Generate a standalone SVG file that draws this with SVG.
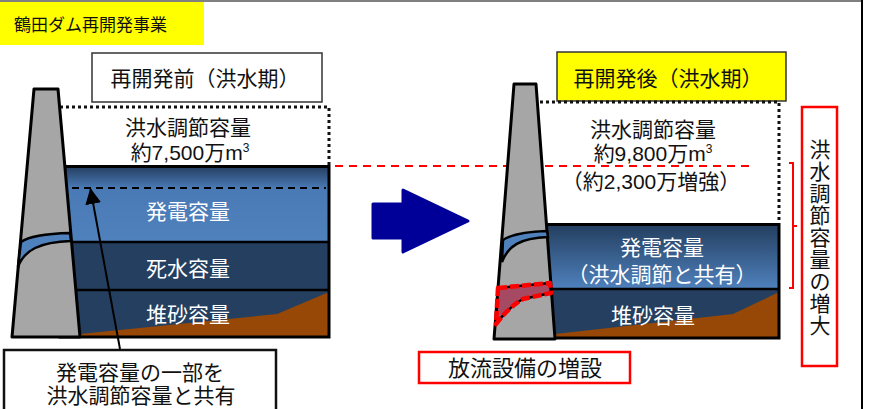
<svg xmlns="http://www.w3.org/2000/svg" width="876" height="409" viewBox="0 0 876 409">
  <defs>
    <linearGradient id="gradPowerBefore" x1="0" y1="0" x2="0" y2="1">
      <stop offset="0" stop-color="#253f62"/>
      <stop offset="0.28" stop-color="#4a7ab5"/>
      <stop offset="1" stop-color="#4f81bd"/>
    </linearGradient>
    <linearGradient id="gradPowerAfter" x1="0" y1="0" x2="0" y2="1">
      <stop offset="0" stop-color="#243f60"/>
      <stop offset="1" stop-color="#4f81bd"/>
    </linearGradient>
    <marker id="arrowHeadBig" viewBox="0 0 16 16" refX="15" refY="8" markerWidth="16" markerHeight="16" markerUnits="userSpaceOnUse" orient="auto">
      <path d="M0,0 L16,8 L0,16 Z" fill="#000"/>
    </marker>
  </defs>
  <style>
    text { font-family: "Liberation Sans", "Noto Sans CJK JP", sans-serif; fill: #111; }
    .lbl { font-size: 21px; text-anchor: middle; }
    .wht { fill: #fff; }
    .dam { fill: #a6a6a6; stroke: #000; stroke-width: 3; stroke-linejoin: round; }
    .pipe { fill: #4f81bd; stroke: #000; stroke-width: 2.5; }
    .navy { fill: #243f60; }
    .sand { fill: #974806; }
    .edge { fill: none; stroke: #000; stroke-width: 3; }
    .divide { stroke: #000; stroke-width: 2.5; }
    .dots { fill: none; stroke: #111; stroke-width: 3; stroke-dasharray: 3 3; }
    .redbox { fill: #fff; stroke: #ff0000; stroke-width: 2.5; }
  </style>

  <!-- frame -->
  <line x1="0" y1="1" x2="862" y2="1" stroke="#808080" stroke-width="2"/>
  <line x1="862" y1="0" x2="862" y2="409" stroke="#000" stroke-width="2"/>

  <!-- title -->
  <g id="title">
    <rect x="0" y="2" width="204" height="43" fill="#ffff00"/>
    <text x="14" y="31" style="font-size:17px">鶴田ダム再開発事業</text>
  </g>

  <!-- before: label -->
  <g id="label-before">
    <rect x="92" y="53" width="230" height="49" fill="#fff" stroke="#333" stroke-width="1.5"/>
    <text class="lbl" x="205" y="86">再開発前（洪水期）</text>
  </g>

  <!-- before: flood control space -->
  <g id="flood-before">
    <path class="dots" d="M60,107 H329 V165"/>
    <text class="lbl" x="188" y="135">洪水調節容量</text>
    <text class="lbl" x="190" y="160">約7,500万m<tspan dy="-8" style="font-size:12px">3</tspan></text>
  </g>

  <!-- red dashed reference level -->
  <g id="connectors">
    <line x1="335" y1="166" x2="754" y2="166" stroke="#ff0000" stroke-width="2.2" stroke-dasharray="8 6"/>
  </g>

  <!-- before: reservoir -->
  <g id="reservoir-before">
    <rect x="60" y="167" width="269" height="75" fill="url(#gradPowerBefore)"/>
    <rect class="navy" x="60" y="242" width="269" height="95"/>
    <polygon class="sand" points="80,334 277,314 329,292 329,337 80,337"/>
    <line class="divide" x1="60" y1="242" x2="329" y2="242"/>
    <line class="divide" x1="60" y1="290" x2="329" y2="290"/>
    <line x1="72" y1="188" x2="326" y2="188" stroke="#000" stroke-width="1.8" stroke-dasharray="7 5"/>
    <rect class="edge" x="60" y="166.5" width="269" height="170.5"/>
    <text class="lbl wht" x="188" y="219">発電容量</text>
    <text class="lbl wht" x="188" y="276">死水容量</text>
    <text class="lbl wht" x="188" y="322">堆砂容量</text>
  </g>

  <!-- before: dam -->
  <g id="dam-before">
    <polygon class="dam" points="34,89 58,89 80,337 12,337"/>
    <path class="pipe" d="M21,242 Q32,234 70,233 L71,241 C40,242 24,250 18,267 Z"/>
  </g>

  <!-- before: note and pointer -->
  <g id="note-before">
    <rect x="4" y="350" width="272" height="70" fill="#fff" stroke="#111" stroke-width="2.5"/>
    <text class="lbl" x="140" y="380">発電容量の一部を</text>
    <text class="lbl" x="141" y="403">洪水調節容量と共有</text>
  </g>
  <g id="pointer">
    <line x1="120" y1="349" x2="90.5" y2="189" stroke="#000" stroke-width="2" marker-end="url(#arrowHeadBig)"/>
  </g>

  <!-- transition arrow -->
  <g id="transition-arrow">
    <polygon points="373,204 403,204 403,190 468,221 403,252 403,238 373,238" fill="#000099" stroke="#000099" stroke-width="3" stroke-linejoin="round"/>
  </g>

  <!-- after: label -->
  <g id="label-after">
    <rect x="557" y="52" width="229" height="49" fill="#ffff00" stroke="#333" stroke-width="1.5"/>
    <text class="lbl" x="668" y="86">再開発後（洪水期）</text>
  </g>

  <!-- after: flood control space -->
  <g id="flood-after">
    <path class="dots" d="M540,102 H779 V223"/>
    <text class="lbl" x="653" y="137">洪水調節容量</text>
    <text class="lbl" x="653" y="161">約9,800万m<tspan dy="-8" style="font-size:12px">3</tspan></text>
    <text class="lbl" x="651" y="189">（約2,300万増強）</text>
  </g>

  <!-- after: reservoir -->
  <g id="reservoir-after">
    <rect x="540" y="225" width="239" height="64" fill="url(#gradPowerAfter)"/>
    <rect class="navy" x="540" y="289" width="239" height="49"/>
    <polygon class="sand" points="555,334 733,314 779,292 779,338 555,338"/>
    <line class="divide" x1="540" y1="289" x2="779" y2="289"/>
    <rect class="edge" x="540" y="224.5" width="239" height="113.5"/>
    <text class="lbl wht" x="662" y="255">発電容量</text>
    <text class="lbl wht" x="662" y="282">（洪水調節と共有）</text>
    <text class="lbl wht" x="653" y="323">堆砂容量</text>
  </g>

  <!-- after: dam with new outlet -->
  <g id="dam-after">
    <polygon class="dam" points="514,84 536,84 555,339 494,339"/>
    <path class="pipe" d="M503,240 Q515,232 547,231 L548,237 C520,238 508,246 502,262 Z"/>
    <path d="M498,288 L550,283 L551,293 L523,299 Q510,306 496,324 Z" fill="#a64a63" stroke="#000" stroke-width="2.5" stroke-linejoin="round"/>
    <path d="M498,288 L550,283 L551,293 L523,299 Q510,306 496,324 Z" fill="none" stroke="#ff0000" stroke-width="4.5" stroke-dasharray="9 3" stroke-linejoin="round"/>
  </g>

  <!-- after: outlet note -->
  <g id="note-outlet">
    <rect class="redbox" x="419" y="352" width="211" height="31"/>
    <text class="lbl" x="525" y="376" style="font-size:22px">放流設備の増設</text>
  </g>

  <!-- bracket and vertical note -->
  <g id="bracket">
    <path d="M789,163 H793 V288 H789 M793,226 H797" fill="none" stroke="#ff0000" stroke-width="2"/>
  </g>
  <g id="note-increase">
    <rect class="redbox" x="802" y="107" width="35" height="259"/>
    <text class="lbl" x="820" y="157">
      <tspan x="820">洪</tspan><tspan x="820" dy="22">水</tspan><tspan x="820" dy="22">調</tspan><tspan x="820" dy="22">節</tspan><tspan x="820" dy="22">容</tspan><tspan x="820" dy="22">量</tspan><tspan x="820" dy="22">の</tspan><tspan x="820" dy="22">増</tspan><tspan x="820" dy="22">大</tspan>
    </text>
  </g>
</svg>
